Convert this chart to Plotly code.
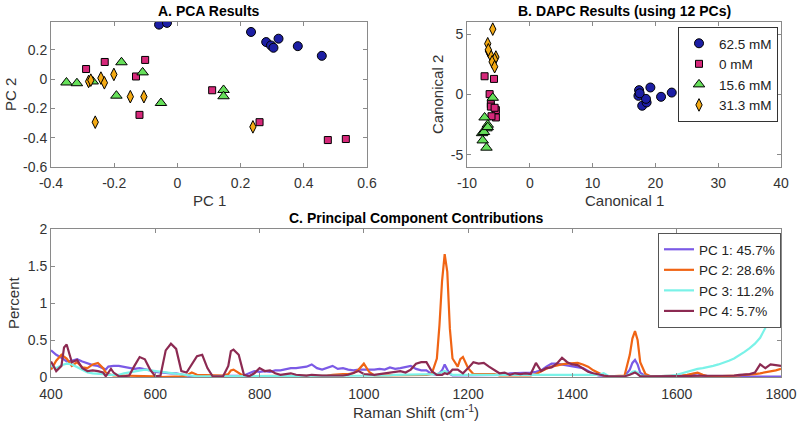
import plotly.graph_objects as go

# ---------------- Panel A: PCA scores ----------------
groups = ["62.5 mM", "0 mM", "15.6 mM", "31.3 mM"]

pca_pc1_625 = [-0.058, -0.033, 0.233, 0.281, 0.296, 0.304, 0.320, 0.381, 0.457]
pca_pc2_625 = [0.372, 0.384, 0.322, 0.253, 0.230, 0.214, 0.276, 0.225, 0.159]
pca_pc1_0 = [-0.289, -0.230, -0.102, -0.131, -0.120, 0.110, 0.260, 0.476, 0.533]
pca_pc2_0 = [0.069, 0.117, 0.131, 0.018, -0.244, -0.076, -0.294, -0.416, -0.409]
pca_pc1_156 = [-0.351, -0.318, -0.268, -0.177, -0.110, -0.193, -0.052, 0.146, 0.146]
pca_pc2_156 = [-0.023, -0.028, -0.016, 0.115, 0.046, -0.113, -0.163, -0.074, -0.117]
pca_pc1_313 = [-0.281, -0.274, -0.242, -0.231, -0.201, -0.149, -0.106, -0.260, 0.239]
pca_pc2_313 = [-0.016, -0.007, 0.007, -0.025, 0.032, -0.120, -0.120, -0.294, -0.326]

# ---------------- Panel B: DAPC scores ----------------
dapc_c1_625 = [17.4, 17.3, 19.2, 17.9, 18.6, 18.5, 20.9, 22.6, 17.5]
dapc_c2_625 = [0.36, -0.11, 0.58, -0.93, -0.66, -0.36, -0.19, 0.16, 0.10]
dapc_c1_0 = [-7.2, -5.7, -6.4, -6.2, -6.2, -5.4, -5.4, -6.1, -5.6]
dapc_c2_0 = [1.51, 1.29, 0.03, -0.80, -1.00, -1.29, -1.90, -1.80, -1.10]
dapc_c1_156 = [-5.9, -7.2, -6.7, -6.9, -7.6, -7.5, -6.9, -7.3, -6.7]
dapc_c2_156 = [-0.27, -1.90, -2.50, -2.80, -3.20, -3.80, -4.40, -3.10, -2.70]
dapc_c1_313 = [-5.9, -6.7, -6.6, -6.3, -5.4, -5.6, -6.0, -5.6, -6.6]
dapc_c2_313 = [5.41, 4.20, 3.60, 3.30, 3.10, 2.90, 2.70, 2.30, 3.70]

# ---------------- Panel C: PC contributions ----------------
pc_labels = ["PC 1: 45.7%", "PC 2: 28.6%", "PC 3: 11.2%", "PC 4: 5.7%"]

raman_shift = [
    400, 410, 420, 425, 430, 440, 450, 460, 470, 480, 490, 500, 505, 510, 515, 520,
    530, 540, 550, 560, 570, 580, 590, 600, 610, 620, 630, 640, 650, 660, 670, 680, 690, 700, 710, 720, 730, 740,
    745, 750, 760, 770, 780, 790, 800, 810, 820, 830,
    840, 850, 860, 870, 880, 890, 900, 910, 920, 930,
    940, 950, 960, 970, 980, 990, 1000, 1010, 1020, 1030,
    1040, 1050, 1060, 1070, 1080, 1090, 1100, 1110, 1120, 1130,
    1140, 1145, 1150, 1155, 1160, 1165, 1170, 1180, 1185, 1190,
    1200, 1210, 1220, 1230, 1240, 1250, 1260, 1270, 1280, 1290, 1300,
    1310, 1320, 1330, 1340, 1350, 1360, 1370, 1380, 1390, 1400,
    1410, 1420, 1430, 1440, 1450, 1460, 1470, 1480, 1490, 1500,
    1510, 1515, 1520, 1525, 1530, 1540,
    1550, 1560, 1570, 1580, 1590, 1600, 1610, 1620, 1630, 1640,
    1650, 1660, 1670, 1680, 1690, 1700, 1710, 1720, 1730, 1740, 1750, 1760, 1770, 1780, 1790, 1800,
]

pc1_percent = [
    0.36, 0.30, 0.26, 0.24, 0.21, 0.22, 0.24, 0.21, 0.18, 0.16, 0.15, 0.12, 0.10, 0.14, 0.15, 0.15,
    0.15, 0.14, 0.12, 0.11, 0.12, 0.11, 0.09, 0.07, 0.06, 0.06, 0.05, 0.05, 0.03, 0.02, 0.01, 0.01, 0.01, 0.01, 0.01, 0.01, 0.01, 0.01,
    0.01, 0.01, 0.01, 0.02, 0.05, 0.08, 0.07, 0.08, 0.07, 0.09,
    0.09, 0.11, 0.12, 0.12, 0.13, 0.14, 0.17, 0.12, 0.10, 0.12,
    0.15, 0.11, 0.12, 0.10, 0.09, 0.10, 0.10, 0.09, 0.10, 0.11,
    0.10, 0.13, 0.11, 0.12, 0.13, 0.15, 0.11, 0.09, 0.09, 0.04,
    0.03, 0.05, 0.09, 0.17, 0.10, 0.04, 0.02, 0.02, 0.02, 0.02,
    0.02, 0.02, 0.02, 0.02, 0.02, 0.02, 0.02, 0.03, 0.05, 0.05, 0.06,
    0.05, 0.06, 0.07, 0.09, 0.14, 0.18, 0.18, 0.17, 0.15, 0.14,
    0.13, 0.12, 0.08, 0.04, 0.02, 0.01, 0.01, 0.01, 0.01, 0.01,
    0.10, 0.19, 0.23, 0.17, 0.06, 0.01,
    0.01, 0.01, 0.01, 0.01, 0.01, 0.01, 0.02, 0.02, 0.04, 0.05,
    0.02, 0.01, 0.005, 0.005, 0.005, 0.005, 0.005, 0.005, 0.005, 0.005, 0.005, 0.005, 0.005, 0.005, 0.005, 0.005,
]

pc2_percent = [
    0.10, 0.22, 0.30, 0.28, 0.25, 0.15, 0.20, 0.13, 0.12, 0.17, 0.19, 0.12, 0.06, 0.04, 0.03, 0.02,
    0.02, 0.02, 0.02, 0.01, 0.01, 0.01, 0.01, 0.01, 0.00, 0.00, 0.00, 0.00, 0.01, 0.02, 0.06, 0.03, 0.03, 0.02, 0.02, 0.02, 0.02, 0.04,
    0.09, 0.10, 0.05, 0.01, 0.01, 0.01, 0.01, 0.01, 0.01, 0.01,
    0.01, 0.01, 0.01, 0.01, 0.01, 0.01, 0.01, 0.01, 0.01, 0.02,
    0.03, 0.04, 0.04, 0.04, 0.05, 0.10, 0.18, 0.07, 0.02, 0.02,
    0.02, 0.02, 0.02, 0.02, 0.02, 0.02, 0.02, 0.02, 0.03, 0.04,
    0.25, 0.70, 1.30, 1.66, 1.42, 0.65, 0.25, 0.14, 0.24, 0.27,
    0.12, 0.04, 0.04, 0.05, 0.05, 0.04, 0.02, 0.02, 0.02, 0.03, 0.03,
    0.02, 0.02, 0.04, 0.08, 0.11, 0.14, 0.16, 0.17, 0.18, 0.19,
    0.19, 0.17, 0.14, 0.09, 0.05, 0.02, 0.01, 0.01, 0.01, 0.02,
    0.30, 0.52, 0.62, 0.50, 0.20, 0.04,
    0.01, 0.01, 0.01, 0.01, 0.01, 0.01, 0.02, 0.03, 0.05, 0.06,
    0.03, 0.01, 0.01, 0.01, 0.01, 0.02, 0.02, 0.02, 0.03, 0.03, 0.04, 0.05, 0.06, 0.08, 0.09, 0.11,
]

pc3_percent = [
    0.15, 0.12, 0.16, 0.17, 0.18, 0.17, 0.13, 0.09, 0.06, 0.05, 0.05, 0.04, 0.03, 0.03, 0.03, 0.03,
    0.03, 0.05, 0.06, 0.08, 0.09, 0.10, 0.09, 0.08, 0.07, 0.06, 0.06, 0.05, 0.03, 0.02, 0.02, 0.01, 0.01, 0.01, 0.01, 0.01, 0.01, 0.01,
    0.01, 0.01, 0.01, 0.01, 0.01, 0.01, 0.02, 0.02, 0.02, 0.02,
    0.02, 0.02, 0.02, 0.02, 0.02, 0.02, 0.02, 0.02, 0.02, 0.02,
    0.02, 0.02, 0.02, 0.02, 0.02, 0.02, 0.02, 0.02, 0.02, 0.02,
    0.02, 0.02, 0.03, 0.03, 0.03, 0.03, 0.04, 0.04, 0.04, 0.04,
    0.04, 0.05, 0.06, 0.08, 0.06, 0.04, 0.03, 0.03, 0.03, 0.03,
    0.03, 0.03, 0.03, 0.03, 0.03, 0.02, 0.02, 0.02, 0.02, 0.02, 0.02,
    0.02, 0.02, 0.02, 0.02, 0.02, 0.02, 0.02, 0.02, 0.02, 0.02,
    0.02, 0.02, 0.02, 0.02, 0.03, 0.05, 0.01, 0.01, 0.01, 0.01,
    0.04, 0.07, 0.08, 0.06, 0.02, 0.01,
    0.01, 0.01, 0.01, 0.02, 0.02, 0.03, 0.05, 0.08, 0.09, 0.11,
    0.12, 0.13, 0.15, 0.17, 0.19, 0.22, 0.25, 0.29, 0.34, 0.39, 0.45, 0.53, 0.66, 0.80, 0.93, 1.10,
]

pc4_percent = [
    0.21, 0.08, 0.15, 0.40, 0.44, 0.20, 0.23, 0.12, 0.08, 0.09, 0.08, 0.06, 0.01, 0.06, 0.11, 0.06,
    0.01, 0.01, 0.02, 0.15, 0.27, 0.24, 0.10, 0.01, 0.02, 0.36, 0.45, 0.38, 0.08, 0.06, 0.17, 0.28, 0.30, 0.12, 0.01, 0.01, 0.01, 0.15,
    0.35, 0.37, 0.30, 0.03, 0.01, 0.05, 0.12, 0.08, 0.09, 0.05,
    0.03, 0.04, 0.05, 0.03, 0.02, 0.02, 0.03, 0.02, 0.02, 0.02,
    0.02, 0.01, 0.02, 0.03, 0.06, 0.08, 0.04, 0.03, 0.03, 0.04,
    0.05, 0.05, 0.06, 0.08, 0.06, 0.10, 0.18, 0.20, 0.20, 0.08,
    0.03, 0.03, 0.03, 0.05, 0.04, 0.06, 0.10, 0.10, 0.07, 0.05,
    0.12, 0.20, 0.18, 0.19, 0.14, 0.10, 0.05, 0.06, 0.03, 0.05, 0.04,
    0.05, 0.04, 0.19, 0.08, 0.12, 0.13, 0.18, 0.26, 0.20, 0.17,
    0.16, 0.11, 0.07, 0.05, 0.03, 0.02, 0.01, 0.01, 0.01, 0.01,
    0.03, 0.05, 0.06, 0.04, 0.01, 0.01,
    0.01, 0.01, 0.01, 0.01, 0.01, 0.01, 0.01, 0.01, 0.01, 0.01,
    0.01, 0.01, 0.01, 0.01, 0.01, 0.02, 0.02, 0.03, 0.03, 0.04, 0.06, 0.17, 0.12, 0.17, 0.16, 0.15,
]

# ---------------- styles ----------------
FONT = "Liberation Sans, Arial, Helvetica, sans-serif"
W, H = 800, 426
marker_styles = {
    "62.5 mM": dict(symbol="circle", color="#1c1ea4", size=9),
    "0 mM": dict(symbol="square", color="#d6287a", size=7),
    "15.6 mM": dict(symbol="triangle-up", color="#66e05a", size=10),
    "31.3 mM": dict(symbol="diamond-tall", color="#f4aa14", size=9),
}
line_colors = ["#7b5ae6", "#f06414", "#7af2e8", "#8c2a52"]

fig = go.Figure()

pca_sets = [(pca_pc1_625, pca_pc2_625), (pca_pc1_0, pca_pc2_0),
            (pca_pc1_156, pca_pc2_156), (pca_pc1_313, pca_pc2_313)]
dapc_sets = [(dapc_c1_625, dapc_c2_625), (dapc_c1_0, dapc_c2_0),
             (dapc_c1_156, dapc_c2_156), (dapc_c1_313, dapc_c2_313)]

for g, (xs, ys) in zip(groups, pca_sets):
    st = marker_styles[g]
    fig.add_trace(go.Scatter(x=xs, y=ys, mode="markers", name=g, showlegend=False,
                             marker=dict(symbol=st["symbol"], color=st["color"], size=st["size"],
                                         line=dict(color="black", width=1)),
                             xaxis="x", yaxis="y"))

for g, (xs, ys) in zip(groups, dapc_sets):
    st = marker_styles[g]
    fig.add_trace(go.Scatter(x=xs, y=ys, mode="markers", name=g, legend="legend",
                             marker=dict(symbol=st["symbol"], color=st["color"], size=st["size"],
                                         line=dict(color="black", width=1)),
                             xaxis="x2", yaxis="y2"))

for lab, ys, col in zip(pc_labels, [pc1_percent, pc2_percent, pc3_percent, pc4_percent], line_colors):
    fig.add_trace(go.Scatter(x=raman_shift, y=ys, mode="lines", name=lab, legend="legend2",
                             line=dict(color=col, width=2.2),
                             xaxis="x3", yaxis="y3"))


def ax(**kw):
    base = dict(showline=True, linecolor="#8a8a8a", linewidth=1, mirror="ticks",
                ticks="inside", ticklen=4, tickcolor="#8a8a8a", showgrid=False,
                zeroline=False, tickfont=dict(family=FONT, size=14, color="#333333"),
                fixedrange=True, automargin=False)
    base.update(kw)
    return base


def px_x(p):
    return p / W


def px_y(p):
    return 1 - p / H


fig.update_layout(
    width=W, height=H, autosize=False,
    margin=dict(l=0, r=0, t=0, b=0, autoexpand=False),
    paper_bgcolor="white", plot_bgcolor="white",
    font=dict(family=FONT, size=14, color="#333333"),
    xaxis=ax(domain=[px_x(51), px_x(367)], range=[-0.4, 0.6], anchor="y",
             tickvals=[-0.4, -0.2, 0, 0.2, 0.4, 0.6], ticklabelstandoff=3,
             ticktext=["-0.4", "-0.2", "0", "0.2", "0.4", "0.6"]),
    yaxis=ax(domain=[px_y(167), px_y(22)], range=[-0.6, 0.39], anchor="x",
             tickvals=[-0.6, -0.4, -0.2, 0, 0.2],
             ticktext=["-0.6", "-0.4", "-0.2", "0", "0.2"]),
    xaxis2=ax(domain=[px_x(467), px_x(781)], range=[-10, 40], anchor="y2",
              tickvals=[-10, 0, 10, 20, 30, 40], ticklabelstandoff=3,
              ticktext=["-10", "0", "10", "20", "30", "40"]),
    yaxis2=ax(domain=[px_y(167), px_y(22)], range=[-6, 6], anchor="x2",
              tickvals=[-5, 0, 5], ticktext=["-5", "0", "5"]),
    xaxis3=ax(domain=[px_x(51), px_x(781)], range=[400, 1800], anchor="y3",
              tickvals=[400, 600, 800, 1000, 1200, 1400, 1600, 1800], ticklabelstandoff=4),
    yaxis3=ax(domain=[px_y(377), px_y(229)], range=[0, 2], anchor="x3",
              tickvals=[0, 0.5, 1, 1.5, 2], ticktext=["0", "0.5", "1", "1.5", "2"]),
    legend=dict(x=px_x(778), xanchor="right", y=px_y(27), yanchor="top",
                bgcolor="white", bordercolor="#333333", borderwidth=1,
                font=dict(family=FONT, size=13.5, color="#222222"),
                tracegroupgap=0, itemwidth=30),
    legend2=dict(x=px_x(781), xanchor="right", y=px_y(233), yanchor="top",
                 bgcolor="white", bordercolor="#555555", borderwidth=1,
                 font=dict(family=FONT, size=13.5, color="#222222"),
                 tracegroupgap=0, itemwidth=30),
    showlegend=True,
)

annotations = [
    dict(text="<b>A. PCA Results</b>", x=px_x(209), y=px_y(11), font=dict(size=14, color="black")),
    dict(text="<b>B. DAPC Results (using 12 PCs)</b>", x=px_x(624), y=px_y(11), font=dict(size=14, color="black")),
    dict(text="<b>C. Principal Component Contributions</b>", x=px_x(416), y=px_y(218), font=dict(size=14, color="black")),
    dict(text="PC 1", x=px_x(209), y=px_y(200), font=dict(size=15, color="#333333")),
    dict(text="Canonical 1", x=px_x(624), y=px_y(200), font=dict(size=15, color="#333333")),
    dict(text="Raman Shift (cm<sup>-1</sup>)", x=px_x(416), y=px_y(411), font=dict(size=15, color="#333333")),
    dict(text="PC 2", x=px_x(10), y=px_y(95), textangle=-90, font=dict(size=15, color="#333333")),
    dict(text="Canonical 2", x=px_x(437), y=px_y(95), textangle=-90, font=dict(size=15, color="#333333")),
    dict(text="Percent", x=px_x(13), y=px_y(303), textangle=-90, font=dict(size=15, color="#333333")),
]
for a in annotations:
    a.update(xref="paper", yref="paper", showarrow=False, xanchor="center", yanchor="middle")
    a["font"]["family"] = FONT
fig.update_layout(annotations=annotations)

fig.write_html("out.html",
               config={"displayModeBar": False, "staticPlot": True},
               post_script="document.body.style.margin='0';document.body.style.overflow='hidden';")
